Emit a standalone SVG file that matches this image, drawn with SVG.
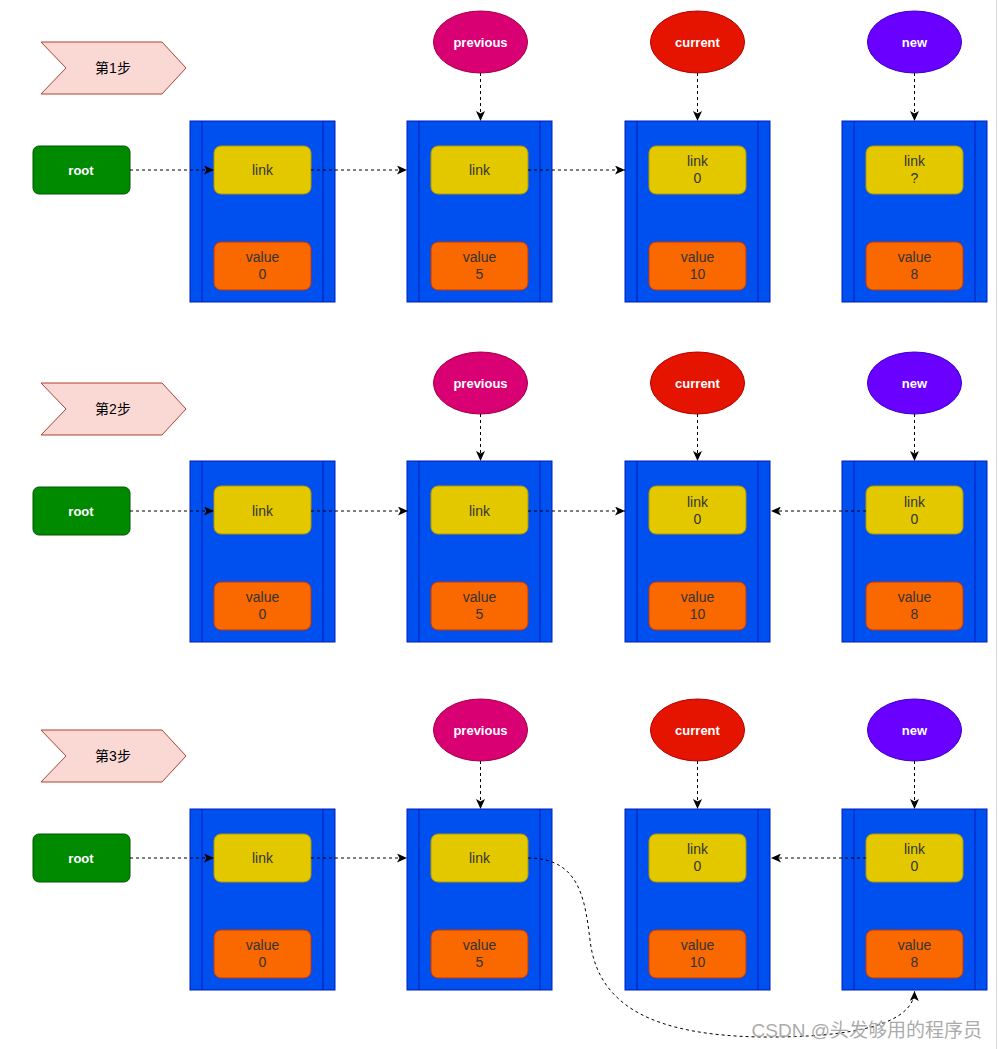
<svg xmlns="http://www.w3.org/2000/svg" width="998" height="1049" viewBox="0 0 998 1049">
<style>
.blk{fill:#0050ef;stroke:#001dbc;stroke-width:1}
.bl{stroke:#001dbc;stroke-width:1;fill:none}
.lnk{fill:#e3c800;stroke:#b09500;stroke-width:1}
.val{fill:#fa6800;stroke:#c73500;stroke-width:1}
.t{font-family:"Liberation Sans",Arial,sans-serif;font-size:14px;fill:#333;text-anchor:middle}
.w{font-family:"Liberation Sans",Arial,sans-serif;font-size:13px;font-weight:bold;fill:#fff;text-anchor:middle}
.step{fill:#fad9d5;stroke:#ae4132;stroke-width:1}
.st{font-family:"Liberation Sans","Noto Sans CJK SC",sans-serif;font-size:14px;fill:#000;text-anchor:middle}
.root{fill:#008a00;stroke:#005700;stroke-width:1}
.prev{fill:#d80073;stroke:#a50040}
.cur{fill:#e51400;stroke:#b20000}
.new{fill:#6a00ff;stroke:#3700cc}
.c{fill:none;stroke:#000;stroke-width:1;stroke-dasharray:3 3;marker-end:url(#ah)}
</style>
<defs>
<marker id="ah" markerWidth="11" markerHeight="9" refX="10" refY="4.5" orient="auto" markerUnits="userSpaceOnUse">
<path d="M0,0 L10,4.5 L0,9 L2.5,4.5 z" fill="#000"/>
</marker>
<g id="blockShape">
<rect class="blk" x="0" y="0" width="145" height="181"/>
<line class="bl" x1="12" y1="0" x2="12" y2="181"/>
<line class="bl" x1="133" y1="0" x2="133" y2="181"/>
<rect class="lnk" x="24" y="25" width="97" height="48" rx="7"/>
<rect class="val" x="24" y="121" width="97" height="48" rx="7"/>
</g>
</defs>
<rect x="0" y="0" width="998" height="1049" fill="#fff"/>
<line x1="996.5" y1="0" x2="996.5" y2="1049" stroke="#d8d8d8" stroke-width="1"/>

<!-- STEP 1 -->
<g id="step1">
<g id="s1-label"><path class="step" d="M41,42 L162,42 L186,68 L162,94 L41,94 L66,68 Z"/><text class="st" x="113" y="73">第1步</text></g>
<g id="s1-root"><rect class="root" x="33" y="146" width="97" height="48" rx="6"/><text class="w" x="81" y="175">root</text></g>
<g id="s1-previous"><ellipse class="prev" cx="480.5" cy="42" rx="47" ry="31"/><text class="w" x="480.5" y="47">previous</text></g>
<g id="s1-current"><ellipse class="cur" cx="697.5" cy="42" rx="47" ry="31"/><text class="w" x="697.5" y="47">current</text></g>
<g id="s1-new"><ellipse class="new" cx="914.5" cy="42" rx="47" ry="31"/><text class="w" x="914.5" y="47">new</text></g>
<g id="s1-node0" transform="translate(190,121)"><use href="#blockShape"/><text class="t" x="72.5" y="54">link</text><text class="t" x="72.5" y="141">value</text><text class="t" x="72.5" y="158">0</text></g>
<g id="s1-node5" transform="translate(407,121)"><use href="#blockShape"/><text class="t" x="72.5" y="54">link</text><text class="t" x="72.5" y="141">value</text><text class="t" x="72.5" y="158">5</text></g>
<g id="s1-node10" transform="translate(625,121)"><use href="#blockShape"/><text class="t" x="72.5" y="45">link</text><text class="t" x="72.5" y="62">0</text><text class="t" x="72.5" y="141">value</text><text class="t" x="72.5" y="158">10</text></g>
<g id="s1-node8" transform="translate(842,121)"><use href="#blockShape"/><text class="t" x="72.5" y="45">link</text><text class="t" x="72.5" y="62">?</text><text class="t" x="72.5" y="141">value</text><text class="t" x="72.5" y="158">8</text></g>
</g>

<!-- STEP 2 -->
<g id="step2">
<g id="s2-label"><path class="step" d="M41,383 L162,383 L186,409 L162,435 L41,435 L66,409 Z"/><text class="st" x="113" y="414">第2步</text></g>
<g id="s2-root"><rect class="root" x="33" y="487" width="97" height="48" rx="6"/><text class="w" x="81" y="516">root</text></g>
<g id="s2-previous"><ellipse class="prev" cx="480.5" cy="383" rx="47" ry="31"/><text class="w" x="480.5" y="388">previous</text></g>
<g id="s2-current"><ellipse class="cur" cx="697.5" cy="383" rx="47" ry="31"/><text class="w" x="697.5" y="388">current</text></g>
<g id="s2-new"><ellipse class="new" cx="914.5" cy="383" rx="47" ry="31"/><text class="w" x="914.5" y="388">new</text></g>
<g id="s2-node0" transform="translate(190,461)"><use href="#blockShape"/><text class="t" x="72.5" y="55">link</text><text class="t" x="72.5" y="141">value</text><text class="t" x="72.5" y="158">0</text></g>
<g id="s2-node5" transform="translate(407,461)"><use href="#blockShape"/><text class="t" x="72.5" y="55">link</text><text class="t" x="72.5" y="141">value</text><text class="t" x="72.5" y="158">5</text></g>
<g id="s2-node10" transform="translate(625,461)"><use href="#blockShape"/><text class="t" x="72.5" y="46">link</text><text class="t" x="72.5" y="63">0</text><text class="t" x="72.5" y="141">value</text><text class="t" x="72.5" y="158">10</text></g>
<g id="s2-node8" transform="translate(842,461)"><use href="#blockShape"/><text class="t" x="72.5" y="46">link</text><text class="t" x="72.5" y="63">0</text><text class="t" x="72.5" y="141">value</text><text class="t" x="72.5" y="158">8</text></g>
</g>

<!-- STEP 3 -->
<g id="step3">
<g id="s3-label"><path class="step" d="M41,730 L162,730 L186,756 L162,782 L41,782 L66,756 Z"/><text class="st" x="113" y="761">第3步</text></g>
<g id="s3-root"><rect class="root" x="33" y="834" width="97" height="48" rx="6"/><text class="w" x="81" y="863">root</text></g>
<g id="s3-previous"><ellipse class="prev" cx="480.5" cy="730" rx="47" ry="31"/><text class="w" x="480.5" y="735">previous</text></g>
<g id="s3-current"><ellipse class="cur" cx="697.5" cy="730" rx="47" ry="31"/><text class="w" x="697.5" y="735">current</text></g>
<g id="s3-new"><ellipse class="new" cx="914.5" cy="730" rx="47" ry="31"/><text class="w" x="914.5" y="735">new</text></g>
<g id="s3-node0" transform="translate(190,809)"><use href="#blockShape"/><text class="t" x="72.5" y="54">link</text><text class="t" x="72.5" y="141">value</text><text class="t" x="72.5" y="158">0</text></g>
<g id="s3-node5" transform="translate(407,809)"><use href="#blockShape"/><text class="t" x="72.5" y="54">link</text><text class="t" x="72.5" y="141">value</text><text class="t" x="72.5" y="158">5</text></g>
<g id="s3-node10" transform="translate(625,809)"><use href="#blockShape"/><text class="t" x="72.5" y="45">link</text><text class="t" x="72.5" y="62">0</text><text class="t" x="72.5" y="141">value</text><text class="t" x="72.5" y="158">10</text></g>
<g id="s3-node8" transform="translate(842,809)"><use href="#blockShape"/><text class="t" x="72.5" y="45">link</text><text class="t" x="72.5" y="62">0</text><text class="t" x="72.5" y="141">value</text><text class="t" x="72.5" y="158">8</text></g>
</g>

<g id="connectors">
<!-- step 1 -->
<path class="c" d="M130,170 L214,170"/>
<path class="c" d="M311,170 L407,170"/>
<path class="c" d="M528,170 L625,170"/>
<path class="c" d="M480.5,73 L480.5,121"/>
<path class="c" d="M697.5,73 L697.5,121"/>
<path class="c" d="M914.5,73 L914.5,121"/>
<!-- step 2 -->
<path class="c" d="M130,511 L214,511"/>
<path class="c" d="M311,511 L408,511"/>
<path class="c" d="M528,511 L625,511"/>
<path class="c" d="M866,511 L771,511"/>
<path class="c" d="M480.5,414 L480.5,461"/>
<path class="c" d="M697.5,414 L697.5,461"/>
<path class="c" d="M914.5,414 L914.5,461"/>
<!-- step 3 -->
<path class="c" d="M130,858 L214,858"/>
<path class="c" d="M311,858 L407,858"/>
<path class="c" d="M866,858 L771,858"/>
<path class="c" d="M480.5,761 L480.5,809"/>
<path class="c" d="M697.5,761 L697.5,809"/>
<path class="c" d="M914.5,761 L914.5,809"/>
<path class="c" d="M528,858 C580,858 585,900 590,940 C598,1010 660,1035 760,1037 C860,1038 914,1022 914.5,991"/>
</g>

<text x="982" y="1037" text-anchor="end" font-family="'Liberation Sans','Noto Sans CJK SC',sans-serif" font-size="19" fill="#a0a0a0" fill-opacity="0.9">CSDN @头发够用的程序员</text>
</svg>
